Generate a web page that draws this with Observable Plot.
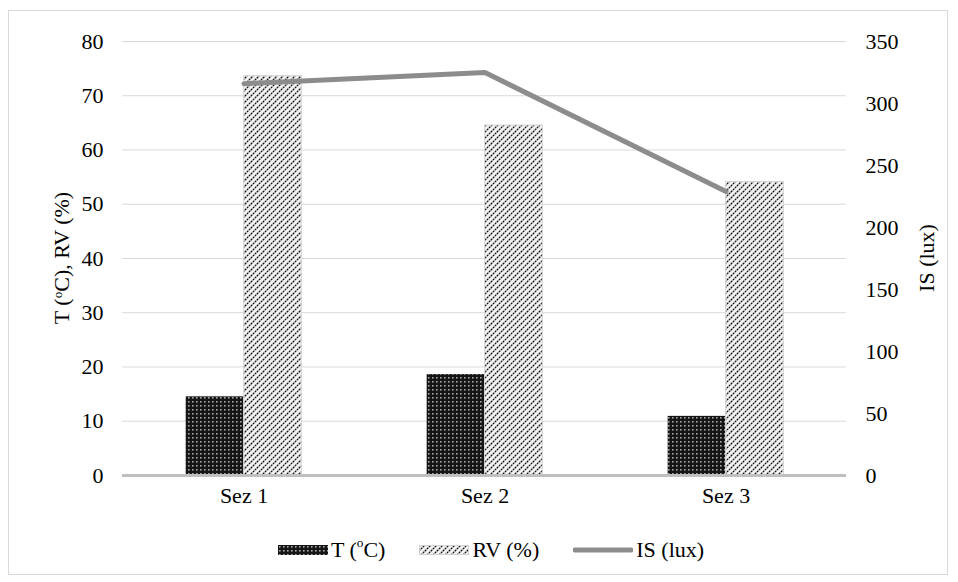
<!DOCTYPE html>
<html>
<head>
<meta charset="utf-8">
<script src="https://cdn.jsdelivr.net/npm/d3@7"></script>
<script src="https://cdn.jsdelivr.net/npm/@observablehq/plot@0.6"></script>
<style>
  html, body { margin: 0; padding: 0; background: #fff; }
  body { width: 958px; height: 582px; position: relative; overflow: hidden;
         font-family: "Liberation Serif", "Times New Roman", serif; color: #000; }
  #frame { position: absolute; left: 8px; top: 10px; width: 940px; height: 565px;
           border: 1.5px solid #d9d9d9; box-sizing: border-box; }
  #chart { position: absolute; left: 0; top: 0; }
  .ytitle { position: absolute; font-size: 22px; white-space: nowrap;
            transform: translate(-50%, -50%) rotate(-90deg); }
  .deg { font-size: 0.6em; position: relative; top: -0.55em; }
  #legend { position: absolute; top: 537px; left: 12px; width: 958px; display: flex;
            justify-content: center; align-items: center; font-size: 22px; }
  .item { display: flex; align-items: center; margin: 0 17px; }
  .item svg { margin-right: 3px; }
</style>
</head>
<body>
<svg width="0" height="0" style="position:absolute">
  <defs>
    <!-- dark fill with a grid of light dots -->
    <pattern id="patT" width="4" height="4" patternUnits="userSpaceOnUse">
      <rect width="4" height="4" fill="#151515"></rect>
      <rect x="1" y="1" width="1.6" height="1.6" fill="#a8a8a8"></rect>
    </pattern>
    <!-- light fill with thin rising diagonals -->
    <pattern id="patRV" width="6" height="6" patternUnits="userSpaceOnUse">
      <rect width="6" height="6" fill="#f2f2f2"></rect>
      <path d="M-1,1 l2,-2 M0,6 l6,-6 M5,7 l2,-2" stroke="#111" stroke-width="1.25" stroke-dasharray="2 0.8"></path>
    </pattern>
  </defs>
</svg>
<div id="frame"></div>
<div id="chart"></div>
<div class="ytitle" style="left:62px; top:258px;">T (<span class="deg">o</span>C), RV (%)</div>
<div class="ytitle" style="left:927px; top:258px;">IS (lux)</div>
<div id="legend">
  <div class="item"><svg width="50" height="10"><rect width="50" height="10" fill="url(#patT)"></rect></svg>T (<span class="deg">o</span>C)</div>
  <div class="item"><svg width="50" height="10"><rect x="0.5" y="0.5" width="49" height="9" fill="url(#patRV)" stroke="#d0d0d0"></rect></svg>RV (%)</div>
  <div class="item"><svg width="60" height="10"><line x1="2" x2="58" y1="5" y2="5" stroke="#8c8c8c" stroke-width="5" stroke-linecap="round"></line></svg>IS (lux)</div>
</div>
<script>
// Section labels and the measured values per section
const sections = ["Sez 1", "Sez 2", "Sez 3"];
const temperature = [14.5, 18.6, 10.9];   // T (°C)
const humidity = [73.6, 64.5, 54.1];      // RV (%)
const illuminance = [316, 325, 229];      // IS (lux)

// Axis ticks
const leftTicks = [0, 10, 20, 30, 40, 50, 60, 70, 80];
const rightTicks = [0, 50, 100, 150, 200, 250, 300, 350];
const leftMax = 80, rightMax = 350;
const toLeft = v => v * leftMax / rightMax;   // right-axis units -> left-axis units

const rows = sections.map((s, i) => ({
  sez: s, T: temperature[i], RV: humidity[i], IS: illuminance[i], ISl: toLeft(illuminance[i])
}));

const W = 958, H = 520;
const mL = 122, mR = 112, mT = 41, mB = 45;
const band = (W - mL - mR) / sections.length;
const barW = 58;
const inset = (band - barW) / 2;

const chart = Plot.plot({
  width: W, height: H,
  marginLeft: mL, marginRight: mR, marginTop: mT, marginBottom: mB,
  style: { fontFamily: "'Liberation Serif', 'Times New Roman', serif", fontSize: "22px", color: "#000", background: "transparent", overflow: "visible" },
  x: { type: "band", domain: sections, padding: 0 },
  y: { domain: [0, leftMax] },
  marks: [
    Plot.gridY(leftTicks, { stroke: "#d9d9d9", strokeOpacity: 1, strokeWidth: 1 }),
    Plot.barY(rows, { x: "sez", y: "T", fill: "url(#patT)", insetLeft: inset, insetRight: inset, dx: -barW / 2 }),
    Plot.barY(rows, { x: "sez", y: "RV", fill: "url(#patRV)", stroke: "#d4d4d4", strokeWidth: 1, insetLeft: inset, insetRight: inset, dx: barW / 2 }),
    Plot.ruleY([0], { stroke: "#bfbfbf", strokeWidth: 3 }),
    Plot.lineY(rows, { x: "sez", y: "ISl", stroke: "#8c8c8c", strokeWidth: 5, strokeLinecap: "round", strokeLinejoin: "round" }),
    Plot.axisY({ anchor: "left", ticks: leftTicks, tickSize: 0, tickPadding: 19, label: null, fontSize: 22 }),
    Plot.axisY({ anchor: "right", ticks: rightTicks.map(toLeft), tickFormat: d => String(Math.round(d * rightMax / leftMax)), tickSize: 0, tickPadding: 19, label: null, fontSize: 22 }),
    Plot.axisX({ tickSize: 0, tickPadding: 12, label: null, fontSize: 22 })
  ]
});
document.getElementById("chart").appendChild(chart);
</script>
</body>
</html>
